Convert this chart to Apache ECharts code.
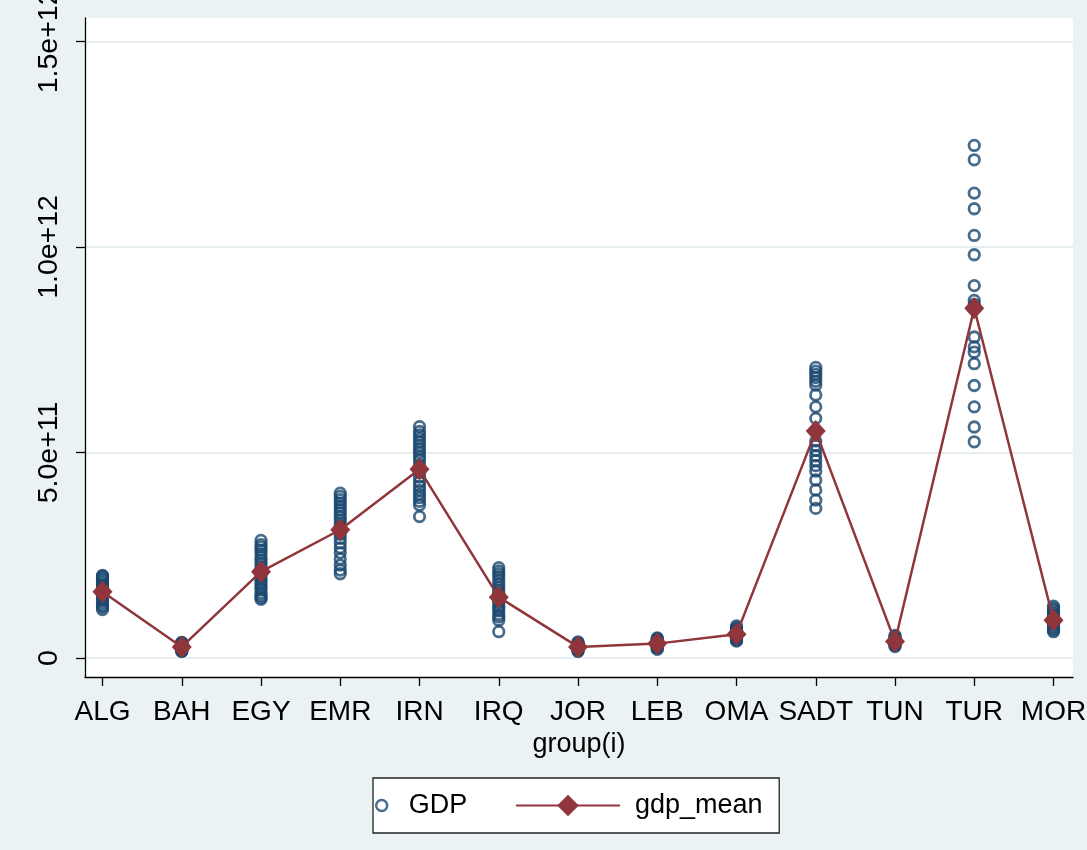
<!DOCTYPE html>
<html>
<head>
<meta charset="utf-8">
<script src="https://cdn.jsdelivr.net/npm/echarts@6/dist/echarts.min.js"></script>
<style>
  html, body { margin: 0; padding: 0; background: #eaf2f3; }
  #chart { width: 1087px; height: 850px; }
</style>
</head>
<body>
<div id="chart"></div>
<script>
// Country groups along the x axis
const groups = ['ALG', 'BAH', 'EGY', 'EMR', 'IRN', 'IRQ', 'JOR', 'LEB', 'OMA', 'SADT', 'TUN', 'TUR', 'MOR'];

// Yearly GDP observations per group, in billions
const gdpALG  = [118, 124, 127, 133, 139, 143, 150, 156, 160, 164, 169, 172, 178, 183, 188, 192, 196, 199, 201];
const gdpBAH  = [16, 17, 19, 20, 22, 24, 25, 26, 27, 28, 29, 31, 32, 33, 34, 35, 36, 37, 38];
const gdpEGY  = [143, 147, 152, 158, 166, 172, 180, 186, 193, 200, 207, 214, 222, 230, 238, 246, 254, 262, 270, 276, 286];
const gdpEMR  = [205, 214, 226, 241, 256, 268, 280, 291, 301, 309, 318, 326, 335, 344, 353, 361, 369, 377, 385, 393, 401];
const gdpIRN  = [344, 372, 381, 390, 398, 408, 418, 428, 440, 452, 470, 482, 490, 500, 508, 517, 526, 534, 543, 551, 563];
const gdpIRQ  = [64, 92, 100, 106, 115, 121, 128, 136, 142, 150, 158, 164, 172, 181, 190, 198, 205, 212, 220];
const gdpJOR  = [16, 18, 20, 22, 23, 25, 26, 27, 28, 29, 30, 31, 32, 34, 35, 37, 39];
const gdpLEB  = [21, 24, 26, 28, 30, 32, 33, 35, 37, 38, 40, 42, 43, 45, 47, 49];
const gdpOMA  = [41, 44, 47, 50, 52, 54, 56, 58, 60, 62, 64, 66, 68, 71, 74, 78];
const gdpSADT = [364, 384, 409, 433, 455, 468, 480, 492, 505, 517, 528, 583, 611, 640, 664, 673, 682, 690, 698, 707];
const gdpTUN  = [28, 31, 33, 35, 37, 39, 41, 43, 45, 47, 49, 52, 55];
const gdpTUR  = [526, 562, 611, 663, 716, 744, 757, 781, 860, 870, 906, 981, 1028, 1093, 1131, 1212, 1247];
const gdpMOR  = [64, 68, 72, 76, 80, 84, 88, 92, 96, 100, 104, 108, 112, 117, 121, 126];

// Group means of GDP, in billions
const gdpMean = [161, 27, 210, 312, 459, 148, 27, 35, 58, 552, 40, 851, 92];

// Y tick positions, in billions
const yTicks = [0, 500, 1000, 1500];

const gdpByGroup = [gdpALG, gdpBAH, gdpEGY, gdpEMR, gdpIRN, gdpIRQ, gdpJOR,
                    gdpLEB, gdpOMA, gdpSADT, gdpTUN, gdpTUR, gdpMOR];

const scatterData = [];
gdpByGroup.forEach((vals, i) => vals.forEach(v => scatterData.push([i, v])));
const meanData = gdpMean.map((v, i) => [i, v]);
const groupIndex = groups.map((g, i) => i);

// Stata-style scientific label: 5.0e+11
function sci(vBillions) {
  if (vBillions === 0) return '0';
  const v = vBillions * 1e9;
  const e = Math.floor(Math.log10(v) + 1e-9);
  const m = v / Math.pow(10, e);
  return m.toFixed(1) + 'e+' + e;
}

const FONT = '"Liberation Sans", Arial, sans-serif';
const NAVY = '#1a476f';
const MAROON = '#90353b';

const chart = echarts.init(document.getElementById('chart'), null, { renderer: 'canvas' });
chart.setOption({
  backgroundColor: '#eaf2f3',
  animation: false,
  textStyle: { fontFamily: FONT },
  grid: {
    left: 85, right: 14, top: 18, bottom: 173,
    outerBoundsMode: 'none',
    containLabel: false,
    show: true, backgroundColor: '#ffffff', borderWidth: 0
  },
  xAxis: {
    type: 'value',
    min: -0.221,
    max: 12.246,
    name: 'group(i)',
    nameLocation: 'middle',
    nameGap: 54,
    nameTextStyle: { fontSize: 27, color: '#000', fontFamily: FONT },
    axisLine: { show: true, onZero: false, lineStyle: { color: '#000', width: 1.3 } },
    axisTick: { show: true, length: 9, customValues: groupIndex, lineStyle: { color: '#000', width: 1.3 } },
    axisLabel: {
      customValues: groupIndex,
      formatter: v => groups[Math.round(v)] || '',
      fontSize: 28, color: '#000', margin: 21, fontFamily: FONT,
      showMinLabel: true, showMaxLabel: true
    },
    splitLine: { show: false }
  },
  yAxis: {
    type: 'value',
    min: -46.2,
    max: 1557,
    axisLine: { show: true, onZero: false, lineStyle: { color: '#000', width: 1.3 } },
    axisTick: { show: true, length: 9, customValues: yTicks, lineStyle: { color: '#000', width: 1.3 } },
    axisLabel: {
      customValues: yTicks,
      formatter: sci,
      rotate: 90,
      fontSize: 28.5, color: '#000', margin: 21, fontFamily: FONT
    },
    splitLine: { show: true, lineStyle: { color: '#e6eef1', width: 2 } }
  },
  legend: [
    {
      data: ['GDP'],
      left: 373, top: 778,
      orient: 'horizontal',
      padding: [14, 312, 14, 2],
      backgroundColor: '#ffffff',
      borderColor: '#222',
      borderWidth: 1.3,
      borderRadius: 0,
      itemWidth: 20, itemHeight: 11,
      itemStyle: { color: 'rgba(0,0,0,0)', borderColor: NAVY, borderWidth: 2.4 },
      textStyle: { fontSize: 27, color: '#000', fontFamily: FONT, padding: [0, 0, 0, 12] },
      z: 3
    },
    {
      data: ['gdp_mean'],
      left: 515, top: 778,
      padding: [14, 0, 14, 0],
      itemWidth: 104, itemHeight: 27,
      textStyle: { fontSize: 27, color: '#000', fontFamily: FONT, padding: [0, 0, 0, 10] },
      z: 4
    }
  ],
  series: [
    {
      name: 'GDP',
      type: 'scatter',
      data: scatterData,
      symbol: 'circle',
      symbolSize: 10.5,
      itemStyle: { color: 'rgba(0,0,0,0)', borderColor: NAVY, borderWidth: 2.8 },
      z: 2
    },
    {
      name: 'gdp_mean',
      type: 'line',
      data: meanData,
      symbol: 'diamond',
      symbolSize: [20, 22],
      itemStyle: { color: MAROON },
      lineStyle: { color: MAROON, width: 2.5 },
      z: 3
    }
  ]
});
</script>
</body>
</html>
